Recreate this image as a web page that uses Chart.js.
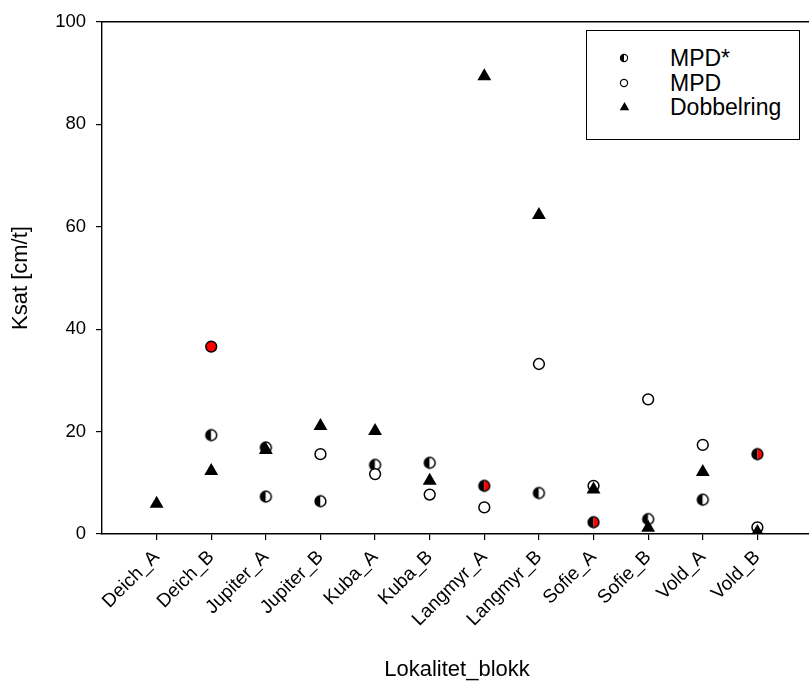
<!DOCTYPE html>
<html lang="no">
<meta charset="utf-8" />
<title>Ksat per lokalitet_blokk</title>
<script src="https://cdn.jsdelivr.net/npm/chart.js@4.4.1"></script>

<style>
*{box-sizing:border-box;font-family:"Liberation Sans",Arial,sans-serif}
html,body{margin:0;padding:0;overflow:hidden;background:#fff}
#wrap{position:relative;width:809px;height:684px;overflow:hidden}
#chart{position:absolute;left:0;top:0}
/* legend-boks inne i plottet */
#legend{position:absolute;left:586px;top:30px;width:214px;height:110px;border:1.3px solid #000;background:#fff}
#legend .mk{position:absolute}
#legend .tx{position:absolute;font-size:23px;line-height:24px;color:#000;white-space:nowrap}
</style>

<body>
<div id="wrap">
  <canvas id="chart" width="820" height="684"></canvas>
  <div id="legend"></div>
</div>

<script>
/*── kategorier på x-aksen ──*/
const categories = ['Deich_A','Deich_B','Jupiter_A','Jupiter_B','Kuba_A','Kuba_B',
                    'Langmyr_A','Langmyr_B','Sofie_A','Sofie_B','Vold_A','Vold_B'];
const yTicks = [0, 20, 40, 60, 80, 100];

/*── MPD* (halvfylt sirkel) ──*/
const mpdStarSites  = ['Deich_B','Jupiter_A','Jupiter_A','Jupiter_B','Kuba_A','Kuba_B',
                       'Langmyr_A','Langmyr_B','Sofie_A','Sofie_B','Vold_A','Vold_B'];
const mpdStarKsat   = [19.3, 16.9, 7.3, 6.4, 13.5, 13.9, 9.4, 8.0, 2.3, 2.9, 6.7, 15.6];
const mpdStarMarked = [false,false,false,false,false,false,true,false,true,false,false,true];

/*── MPD (åpen sirkel) ──*/
const mpdSites  = ['Deich_B','Jupiter_B','Kuba_A','Kuba_B','Langmyr_A','Langmyr_B',
                   'Sofie_A','Sofie_B','Vold_A','Vold_B'];
const mpdKsat   = [36.6, 15.6, 11.7, 7.7, 5.2, 33.2, 9.4, 26.3, 17.4, 1.3];
const mpdMarked = [true,false,false,false,false,false,false,false,false,false];

/*── Dobbelring (trekant) ──*/
const ringSites = categories;
const ringKsat  = [5.9, 12.3, 16.4, 21.1, 20.1, 10.4, 89.4, 62.3, 8.7, 1.2, 12.1, 0.4];

const RED = '#ff0000';

/* halvfylt sirkel som bilde: venstre svart, høyre valgfri farge */
function halfDot(rightColor, r, lw){
  const d = Math.ceil(r*2 + 4);
  const c = document.createElement('canvas');
  c.width = c.height = d;
  const g = c.getContext('2d'), m = d/2;
  g.beginPath(); g.arc(m,m,r,Math.PI/2,Math.PI*1.5); g.closePath();
  g.fillStyle = '#000'; g.fill();
  g.beginPath(); g.arc(m,m,r,-Math.PI/2,Math.PI/2); g.closePath();
  g.fillStyle = rightColor; g.fill();
  g.beginPath(); g.arc(m,m,r,0,Math.PI*2);
  g.lineWidth = lw; g.strokeStyle = '#000'; g.stroke();
  return c;
}
function openDot(r, lw){
  const d = Math.ceil(r*2 + 4);
  const c = document.createElement('canvas');
  c.width = c.height = d;
  const g = c.getContext('2d'), m = d/2;
  g.beginPath(); g.arc(m,m,r,0,Math.PI*2);
  g.fillStyle = '#fff'; g.fill();
  g.lineWidth = lw; g.strokeStyle = '#000'; g.stroke();
  return c;
}
function triMark(r){
  const c = document.createElement('canvas');
  const w = Math.ceil(r*2 + 2);
  c.width = c.height = w;
  const g = c.getContext('2d'), m = w/2;
  g.beginPath();
  g.moveTo(m, m - r);
  g.lineTo(m + r*0.866, m + r*0.5);
  g.lineTo(m - r*0.866, m + r*0.5);
  g.closePath();
  g.fillStyle = '#000'; g.fill();
  return c;
}

const halfWhite = halfDot('#fff', 5.4, 1.5);
const halfRed   = halfDot(RED, 5.4, 1.5);

const pts = (sites, vals) => sites.map((s,i) => ({ x: categories.indexOf(s), y: vals[i] }));

Chart.defaults.font.family = '"Liberation Sans", Arial, sans-serif';
Chart.defaults.color = '#000';

const chart = new Chart(document.getElementById('chart'), {
  type: 'scatter',
  data: {
    datasets: [
      { label:'MPD*', order:2, xAxisID:'x', yAxisID:'y',
        data: pts(mpdStarSites, mpdStarKsat),
        pointStyle: mpdStarMarked.map(m => m ? halfRed : halfWhite),
        pointRadius:6 },
      { label:'MPD', order:1, xAxisID:'x', yAxisID:'y',
        data: pts(mpdSites, mpdKsat),
        pointStyle:'circle', pointRadius:5.4, pointBorderWidth:1.5,
        pointBorderColor:'#000',
        pointBackgroundColor: mpdMarked.map(m => m ? RED : '#fff') },
      { label:'Dobbelring', order:0, xAxisID:'x', yAxisID:'y',
        data: pts(ringSites, ringKsat),
        pointStyle:'triangle', pointRadius:8, pointBorderWidth:0,
        pointBackgroundColor:'#000', pointBorderColor:'#000' }
    ]
  },
  options: {
    responsive:false,
    animation:false,
    layout:{ padding:0 },
    plugins:{ legend:{display:false}, tooltip:{enabled:false} },
    scales:{
      x:{
        type:'linear', position:'bottom', min:-1, max:12,
        afterBuildTicks: s => { s.ticks = categories.map((c,i) => ({value:i})); },
        afterFit: s => { s.height = 150; },
        ticks:{ autoSkip:false, minRotation:45, maxRotation:45, padding:6,
                font:{size:19}, callback: v => categories[v] },
        grid:{ drawOnChartArea:false, drawTicks:true, tickLength:6, color:'#000', lineWidth:1.2 },
        border:{ color:'#000', width:1.4 },
        title:{ display:true, text:'Lokalitet_blokk', font:{size:22}, padding:{top:0,bottom:1} }
      },
      xTop:{
        type:'linear', position:'top', display:true,
        afterFit: s => { s.height = 22; },
        ticks:{ display:false },
        grid:{ display:true, drawOnChartArea:false, drawTicks:false },
        border:{ color:'#000', width:1.4 }
      },
      y:{
        min:0, max:100,
        afterBuildTicks: s => { s.ticks = yTicks.map(v => ({value:v})); },
        afterFit: s => { s.width = 102; },
        ticks:{ padding:10, font:{size:18.5} },
        grid:{ drawOnChartArea:false, tickLength:6, color:'#000', lineWidth:1.2 },
        border:{ color:'#000', width:1.4 },
        title:{ display:true, text:'Ksat [cm/t]', font:{size:22}, padding:{top:8,bottom:0} }
      }
    }
  }
});

/*── HTML-legend inne i plottområdet ──*/
const legendMarks = [halfDot('#fff', 3.6, 1.2), openDot(3.6, 1.2), triMark(5.5)];
const legend = document.getElementById('legend');
const rowY = [27, 52, 76];
chart.data.datasets.forEach((ds, i) => {
  const mk = legendMarks[i];
  mk.className = 'mk';
  mk.style.left = (37 - mk.width/2) + 'px';
  mk.style.top  = (rowY[i] - mk.height/2) + 'px';
  legend.appendChild(mk);
  const tx = document.createElement('span');
  tx.className = 'tx';
  tx.textContent = ds.label;
  tx.style.left = '83px';
  tx.style.top  = (rowY[i] - 12) + 'px';
  legend.appendChild(tx);
});
</script>
</body>
</html>
